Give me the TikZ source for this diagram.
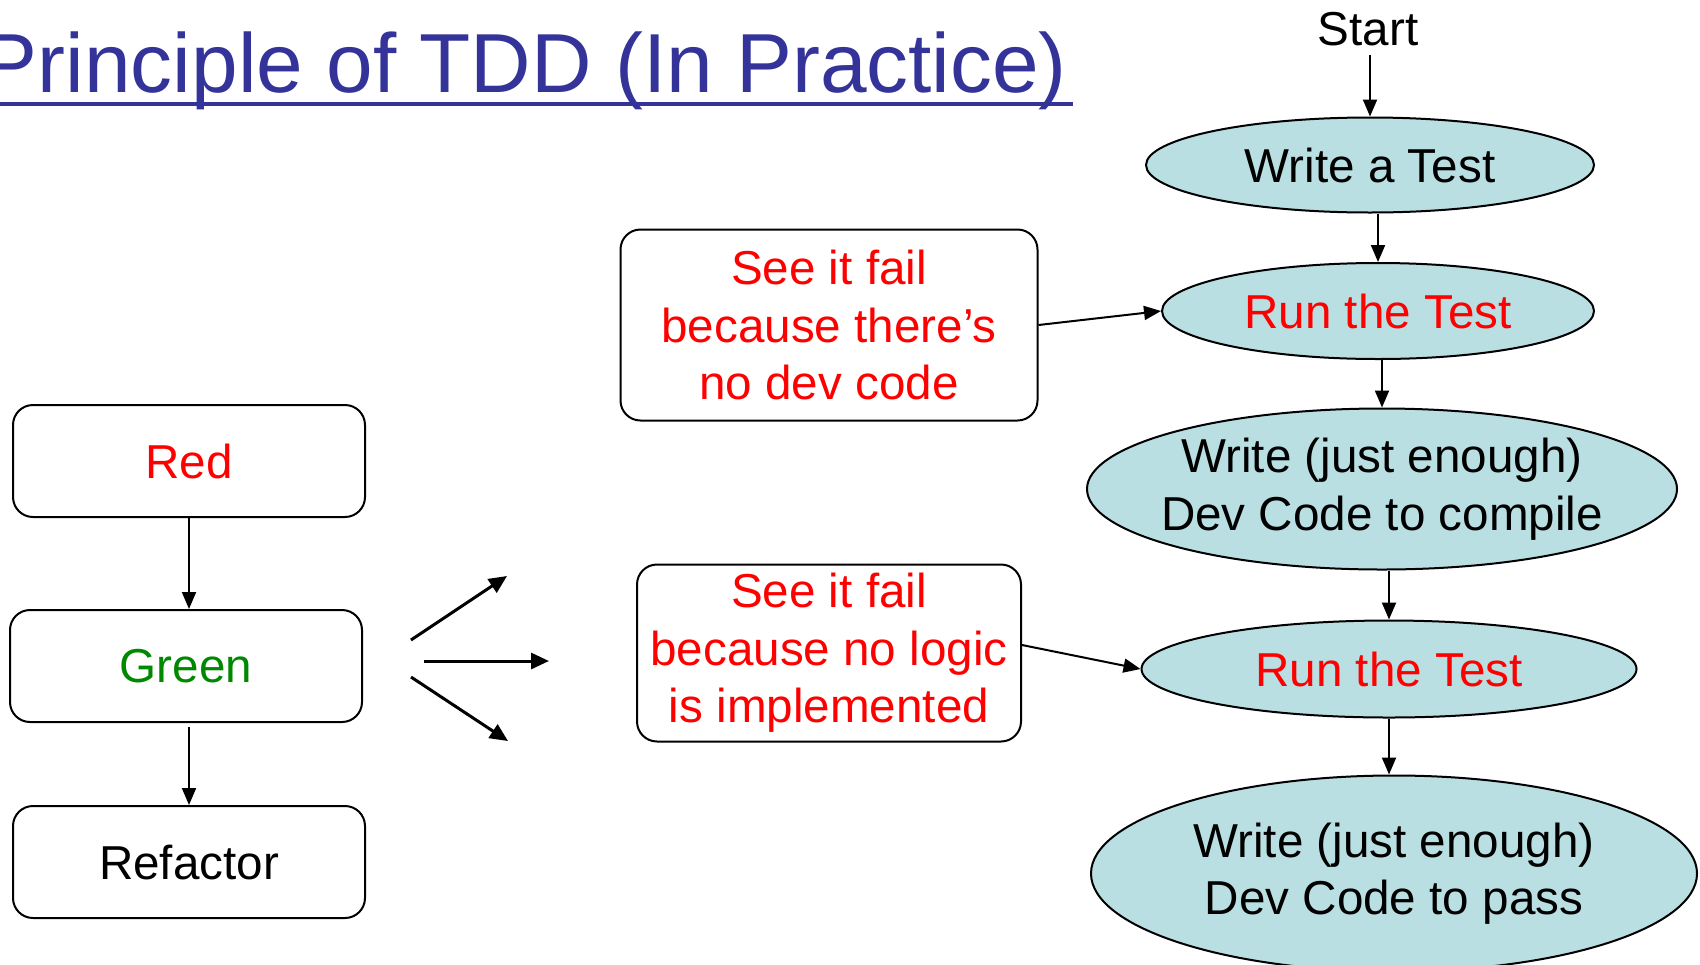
\documentclass[tikz,border=0pt]{standalone}
\usepackage{fontspec}
\setmainfont{Liberation Sans}
\usetikzlibrary{positioning,arrows.meta,shapes.geometric}
\definecolor{titleblue}{RGB}{51,51,153}
\definecolor{stagefill}{RGB}{185,223,227}
\definecolor{passgreen}{RGB}{0,136,0}

\begin{document}
\begin{tikzpicture}[
        x=0.5pt, y=-0.5pt,
        >={Triangle[length=8.5pt,width=7pt]},
        line width=1pt,
        txt/.style={font=\fontsize{23.8}{28.75}\selectfont, align=center, inner sep=0pt},
        stage/.style={ellipse, draw, fill=stagefill, inner sep=0pt},
        box/.style={draw, rounded corners=10pt, align=center, inner sep=0pt, font=\fontsize{23.8}{28.75}\selectfont},
        fan/.style={->, line width=1.5pt, >={Triangle[length=9pt,width=8pt]}}
    ]
        \useasboundingbox (0,0) rectangle (1700,964);

        \node[anchor=base east, inner sep=0pt, text=titleblue, font=\fontsize{41.9}{50}\selectfont] (title) at (1068,92) {Principle of TDD (In Practice)};
        \draw[titleblue, line width=2pt] ([yshift=-6pt]title.base west) -- ([xshift=2.5pt, yshift=-6pt]title.base east);

        % the cycle
        \node[box, text=red, minimum width=176pt, minimum height=56pt] (red) at (189,461) {Red};
        \node[box, text=passgreen, minimum width=176pt, minimum height=56pt, below=45.5pt of red, xshift=-1.5pt] (green) {Green};
        \node[box, minimum width=176pt, minimum height=56pt, below=41pt of green, xshift=1.5pt] (refactor) {Refactor};

        \draw[->] (red.south) -- (red.south |- green.north);
        \draw[->] ([yshift=-2pt]refactor.north |- green.south) -- (refactor.north);

        \coordinate (up0) at (411,640);  \coordinate (up1) at (507,576);
        \coordinate (mid0) at (424,661); \coordinate (mid1) at (549,661);
        \coordinate (low0) at (411,677); \coordinate (low1) at (508,741);
        \draw[fan] (up0) -- (up1);
        \draw[fan] (mid0) -- (mid1);
        \draw[fan] (low0) -- (low1);

        \node[box, text=red, minimum width=208.5pt, minimum height=95.5pt] (fail1) at (829,325) {See it fail\\because there’s\\no dev code};
        \node[box, text=red, minimum width=192pt, minimum height=88.5pt] (fail2) at (829,653) {See it fail\\because no logic\\is implemented};

        % in practice
        \node[txt, inner sep=4pt] (start) at (1368,29) {Start};
        \node[stage, minimum width=224pt, minimum height=47.5pt, label={[txt]center:Write a Test}] (write) at (1370,165) {};
        \node[stage, minimum width=216pt, minimum height=48pt, below=24.25pt of write, xshift=4pt,
              label={[txt, text=red]center:Run the Test}] (run1) {};
        \node[stage, minimum width=295pt, minimum height=80.5pt, below=23.75pt of run1, xshift=2pt,
              label={[txt]center:Write (just enough)\\Dev Code to compile}] (compile) {};
        \node[stage, minimum width=247.5pt, minimum height=48.5pt, below=24.5pt of compile, xshift=3.5pt,
              label={[txt, text=red]center:Run the Test}] (run2) {};
        \node[stage, minimum width=303pt, minimum height=98pt, below=28pt of run2, xshift=2.5pt,
              label={[txt]center:Write (just enough)\\Dev Code to pass}] (pass) {};

        \draw[->] (write.north |- start.south) -- (write.north);
        \draw[->] (run1.north |- write.south) -- (run1.north);
        \draw[->] (compile.north |- run1.south) -- (compile.north);
        \draw[->] (run2.north |- compile.south) -- (run2.north);
        \draw[->] (run2.south) -- (run2.south |- pass.north);

        \draw[->] (fail1.east) -- (run1.west);
        \draw[->] ([yshift=4pt]fail2.east) -- (run2.west);
    \end{tikzpicture}
\end{document}
